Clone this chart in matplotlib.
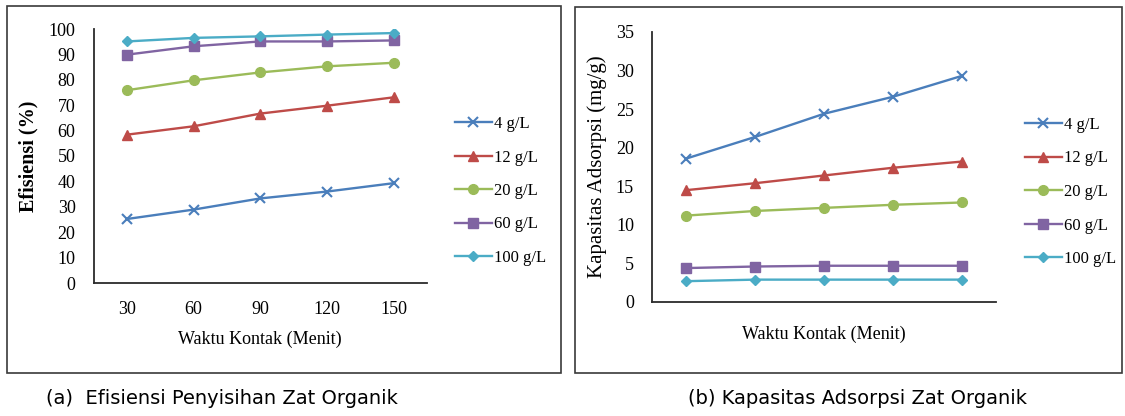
import matplotlib
matplotlib.use("Agg")
import matplotlib.pyplot as plt
from matplotlib.patches import Rectangle

# ---- data ----
times = ["30", "60", "90", "120", "150"]
series_labels = ["4 g/L", "12 g/L", "20 g/L", "60 g/L", "100 g/L"]

eff_4 = [25.2, 28.9, 33.3, 36.0, 39.3]
eff_12 = [58.4, 61.7, 66.7, 69.8, 73.1]
eff_20 = [75.9, 79.8, 82.9, 85.3, 86.7]
eff_60 = [89.9, 93.2, 95.1, 95.1, 95.5]
eff_100 = [95.1, 96.5, 97.1, 97.8, 98.4]

cap_4 = [18.6, 21.4, 24.4, 26.6, 29.3]
cap_12 = [14.5, 15.4, 16.4, 17.4, 18.2]
cap_20 = [11.2, 11.8, 12.2, 12.6, 12.9]
cap_60 = [4.4, 4.6, 4.7, 4.7, 4.7]
cap_100 = [2.7, 2.9, 2.9, 2.9, 2.9]

colors = ["#4A7EBB", "#BE4B48", "#9BBB59", "#8064A2", "#4BACC6"]
markers = ["x", "^", "o", "s", "D"]
msizes = [7, 7, 7, 6.5, 5.5]

W, H = 1125, 416
fig = plt.figure(figsize=(W / 100, H / 100), dpi=100)
fig.patch.set_facecolor("white")

SERIF = ["Liberation Serif", "DejaVu Serif"]


def px_axes(x0, y0, x1, y1):
    return fig.add_axes([x0 / W, 1 - y1 / H, (x1 - x0) / W, (y1 - y0) / H])


# panel borders
for (x0, y0, x1, y1) in [(7, 6, 561, 373), (575, 7, 1122, 373)]:
    fig.add_artist(Rectangle((x0 / W, 1 - y1 / H), (x1 - x0) / W, (y1 - y0) / H,
                             transform=fig.transFigure, fill=False,
                             edgecolor="#3a3a3a", linewidth=1.2))


def style_axes(ax, ymax, ystep):
    for s in ["top", "right"]:
        ax.spines[s].set_visible(False)
    for s in ["left", "bottom"]:
        ax.spines[s].set_color("#2b2b2b")
        ax.spines[s].set_linewidth(1.3)
    ax.set_xlim(-0.5, 4.5)
    ax.set_ylim(0, ymax)
    ax.set_yticks(range(0, ymax + 1, ystep))
    ax.tick_params(length=0, labelsize=13, pad=13)
    for lab in ax.get_yticklabels() + ax.get_xticklabels():
        lab.set_fontfamily(SERIF)


def draw(ax, data):
    xs = list(range(len(times)))
    handles = []
    for vals, c, m, ms, lab in zip(data, colors, markers, msizes, series_labels):
        mew = 1.5 if m == "x" else 1
        h, = ax.plot(xs, vals, color=c, marker=m, markersize=ms, linewidth=1.7,
                     markeredgewidth=mew, label=lab)
        handles.append(h)
    return handles


LEG = dict(loc="upper left", frameon=False, prop={"family": SERIF, "size": 12},
           handlelength=2.2, handletextpad=0.15, labelspacing=1.05,
           borderpad=0, borderaxespad=0)

# ---- left panel ----
ax1 = px_axes(93.6, 29, 427, 283)
hs = draw(ax1, [eff_4, eff_12, eff_20, eff_60, eff_100])
style_axes(ax1, 100, 10)
ax1.set_xticks(range(len(times)))
ax1.set_xticklabels(times, fontfamily=SERIF)
ax1.set_xlabel("Waktu Kontak (Menit)", fontfamily=SERIF, fontsize=13, labelpad=9)
ax1.set_ylabel("Efisiensi (%)", fontfamily=SERIF, fontsize=14.5, fontweight="bold")
ax1.yaxis.set_label_coords(-0.164, 0.5)
fig.legend(handles=hs, labels=series_labels, bbox_to_anchor=(455 / W, 1 - 116 / H), **LEG)

# ---- right panel ----
ax2 = px_axes(652, 32, 996, 302)
hs2 = draw(ax2, [cap_4, cap_12, cap_20, cap_60, cap_100])
style_axes(ax2, 35, 5)
ax2.set_xticks([])
ax2.set_xlabel("Waktu Kontak (Menit)", fontfamily=SERIF, fontsize=13, labelpad=17)
ax2.set_ylabel("Kapasitas Adsorpsi (mg/g)", fontfamily=SERIF, fontsize=15)
ax2.yaxis.set_label_coords(-0.131, 0.5)
fig.legend(handles=hs2, labels=series_labels, bbox_to_anchor=(1025 / W, 1 - 117 / H), **LEG)

# ---- captions ----
fig.text(222 / W, 1 - 398 / H, "(a)  Efisiensi Penyisihan Zat Organik",
         ha="center", va="center", fontsize=14, fontfamily="DejaVu Sans")
fig.text(857 / W, 1 - 398 / H, "(b) Kapasitas Adsorpsi Zat Organik",
         ha="center", va="center", fontsize=14, fontfamily="DejaVu Sans")

fig.savefig("out.png", dpi=100, facecolor="white")
